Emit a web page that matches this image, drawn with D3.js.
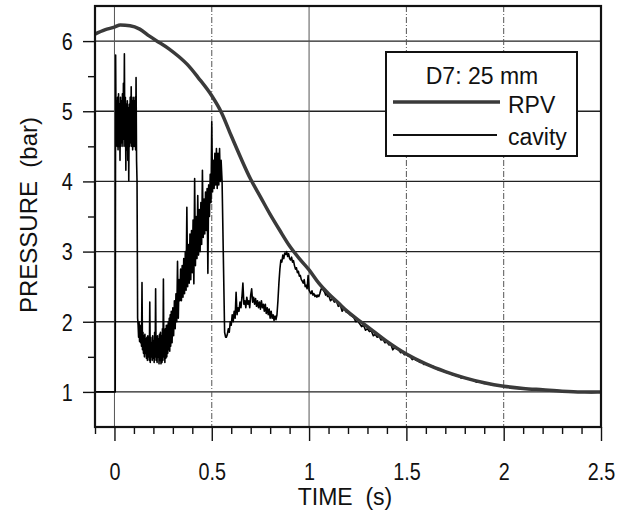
<!DOCTYPE html>
<html>
<head>
<meta charset="utf-8">
<script src="https://cdn.jsdelivr.net/npm/d3@7"></script>
<style>
  body { margin: 0; background: #fff; }
  text { font-family: "Liberation Sans", Arial, sans-serif; fill: #111; }
</style>
</head>
<body>
<svg id="chart" width="624" height="510"></svg>
<script>
// ---- data ----
const xMajor = [0, 0.5, 1, 1.5, 2, 2.5];
const xMinor = [-0.1, 0.1, 0.2, 0.3, 0.4, 0.6, 0.7, 0.8, 0.9, 1.1, 1.2, 1.3, 1.4, 1.6, 1.7, 1.8, 1.9, 2.1, 2.2, 2.3, 2.4];
const yMajor = [1, 2, 3, 4, 5, 6];
const yMinor = [1.5, 2.5, 3.5, 4.5, 5.5];

// RPV pressure (t, bar)
const rpv = [
  [-0.1, 6.10], [-0.05, 6.16], [0, 6.20], [0.03, 6.23], [0.08, 6.22], [0.13, 6.17],
  [0.18, 6.07], [0.23, 5.98], [0.28, 5.89], [0.33, 5.78], [0.38, 5.65], [0.43, 5.48],
  [0.5, 5.22], [0.55, 4.98], [0.6, 4.65], [0.65, 4.33], [0.7, 4.03], [0.75, 3.78],
  [0.8, 3.53], [0.85, 3.30], [0.9, 3.08], [0.95, 2.90], [1.0, 2.74], [1.05, 2.55],
  [1.1, 2.40], [1.15, 2.27], [1.2, 2.14], [1.25, 2.03], [1.3, 1.93], [1.4, 1.72],
  [1.5, 1.54], [1.6, 1.40], [1.7, 1.29], [1.8, 1.20], [1.9, 1.13], [2.0, 1.08],
  [2.1, 1.05], [2.2, 1.03], [2.3, 1.01], [2.4, 1.00], [2.5, 1.00]
];

// cavity pressure, sampled segments (start time, sample step, values)
const cavityBefore = [[-0.1, 1.0], [0.004, 1.0]];
const jetStart = 0.006, jetStep = 0.0025;
const jetValues = [
  5.80, 4.6, 5.15, 4.5, 5.2, 4.45, 5.25, 4.5, 5.1, 4.3, 5.2, 4.5, 5.15, 4.55, 5.25, 4.5,
  5.4, 4.6, 5.82, 4.5, 5.2, 4.16, 5.1, 4.45, 5.15, 4.3, 5.05, 4.01, 5.1, 4.5, 5.2, 4.55,
  5.35, 4.5, 5.15, 4.45, 5.2, 4.5, 5.15, 4.5, 5.2, 4.45, 5.48, 4.3
];
const jetDrop = [[0.116, 4.0], [0.119, 2.05]];
const lowStart = 0.1215, lowStep = 0.0025;
const lowValues = [
  1.95, 1.78, 2.0, 1.72, 1.95, 1.7, 1.9, 1.65, 2.56, 1.6, 1.85, 1.55, 1.8, 1.5, 1.82, 1.55,
  1.75, 1.48, 1.78, 1.45, 1.8, 1.5, 1.75, 1.45, 2.28, 1.42, 1.78, 1.5, 1.7, 1.45, 1.8, 1.48,
  1.72, 1.42, 1.85, 1.5, 2.47, 1.45, 1.78, 1.42, 1.8, 1.5, 1.75, 1.4, 1.82, 1.45, 1.85, 1.4,
  1.8, 1.42, 1.9, 1.45, 2.61, 1.5, 1.88, 1.42, 1.9, 1.48, 1.95, 1.5, 1.95, 1.55, 2.0, 1.6,
  2.05, 1.58, 2.1, 1.65
];
const riseStart = 0.292, riseStep = 0.004;
const riseValues = [
  2.15, 1.7, 2.2, 1.8, 2.3, 1.9, 2.4, 2.0, 2.86, 2.05, 2.6, 2.3, 2.75, 2.3, 2.8, 2.35,
  2.9, 2.4, 3.0, 2.45, 3.63, 2.5, 3.1, 2.55, 3.25, 2.6, 3.3, 2.7, 3.45, 2.54, 4.04, 2.8,
  3.5, 2.9, 3.8, 2.95, 3.6, 3.0, 3.7, 3.1, 4.16, 3.2, 3.75, 3.25, 3.85, 3.3, 3.9, 2.69,
  3.95, 3.5, 4.1, 3.7, 4.85, 3.85, 4.3, 3.9, 4.4, 3.95, 4.47, 3.9, 4.4, 3.95, 4.47, 4.0, 4.3
];
const riseDrop = [[0.553, 4.0], [0.566, 1.85], [0.571, 1.78]];
const plateauStart = 0.575, plateauStep = 0.005;
const plateauValues = [
  1.78, 1.82, 1.9, 1.85, 2.0, 1.95, 2.1, 2.0, 2.15, 2.05, 2.42, 2.1, 2.2, 2.15, 2.28, 2.2,
  2.35, 2.55, 2.25, 2.3, 2.2, 2.35, 2.25, 2.3, 2.2, 2.38, 2.47, 2.28, 2.35, 2.25, 2.33, 2.22,
  2.3, 2.2, 2.28, 2.18, 2.3, 2.2, 2.25, 2.15, 2.25, 2.12, 2.2, 2.1, 2.18, 2.05, 2.15, 2.05,
  2.1, 2.02, 2.08, 2.03, 2.1,
  2.3, 2.55, 2.75, 2.88, 2.85, 2.95, 2.9, 2.98, 2.96, 3.0, 2.93, 2.97, 2.9, 2.88, 2.92, 2.85,
  2.87, 2.8, 2.75, 2.77, 2.7, 2.72, 2.65, 2.66, 2.6, 2.58, 2.55, 2.6, 2.5, 2.52, 2.47, 2.66,
  2.45, 2.42, 2.4, 2.44, 2.38, 2.4, 2.36, 2.38, 2.35, 2.38, 2.36, 2.4, 2.45, 2.48, 2.46, 2.44,
  2.42, 2.38, 2.42, 2.36
];
const cavityTail = [
  [1.10, 2.38], [1.11, 2.30], [1.12, 2.33], [1.13, 2.28], [1.14, 2.30], [1.15, 2.22],
  [1.16, 2.24], [1.17, 2.15], [1.18, 2.19], [1.19, 2.14], [1.20, 2.13], [1.21, 2.10],
  [1.22, 2.08], [1.23, 2.06], [1.24, 2.00], [1.25, 2.01], [1.26, 1.97], [1.27, 1.93],
  [1.28, 1.95], [1.29, 1.88], [1.30, 1.90], [1.31, 1.86], [1.32, 1.87], [1.33, 1.80],
  [1.34, 1.82], [1.35, 1.78], [1.36, 1.79], [1.37, 1.74], [1.38, 1.75], [1.39, 1.70],
  [1.40, 1.71], [1.41, 1.67], [1.42, 1.68], [1.43, 1.60], [1.44, 1.63], [1.45, 1.61],
  [1.46, 1.60], [1.47, 1.56], [1.48, 1.57], [1.49, 1.53], [1.50, 1.54], [1.51, 1.51],
  [1.52, 1.50], [1.53, 1.46], [1.54, 1.48], [1.55, 1.45], [1.56, 1.44], [1.57, 1.42],
  [1.58, 1.42], [1.59, 1.39], [1.60, 1.40], [1.62, 1.37], [1.64, 1.36], [1.66, 1.32],
  [1.68, 1.31], [1.70, 1.28], [1.72, 1.27], [1.74, 1.24], [1.76, 1.24], [1.78, 1.20],
  [1.80, 1.20], [1.82, 1.18], [1.84, 1.17], [1.86, 1.14], [1.88, 1.14], [1.90, 1.12],
  [1.92, 1.12], [1.94, 1.10], [1.96, 1.10], [1.98, 1.08], [2.00, 1.08], [2.04, 1.06],
  [2.08, 1.05], [2.12, 1.04], [2.16, 1.03], [2.20, 1.03], [2.25, 1.02], [2.30, 1.01],
  [2.35, 1.00], [2.40, 1.00], [2.45, 0.99], [2.50, 1.00]
];

function sampled(start, step, values) {
  return values.map((v, i) => [start + i * step, v]);
}

const cavity = [].concat(
  cavityBefore,
  sampled(jetStart, jetStep, jetValues),
  jetDrop,
  sampled(lowStart, lowStep, lowValues),
  sampled(riseStart, riseStep, riseValues),
  riseDrop,
  sampled(plateauStart, plateauStep, plateauValues),
  cavityTail
);

// ---- layout ----
const svg = d3.select('#chart');
const plotLeft = 95, plotRight = 601, plotTop = 6, plotBottom = 427;

const x = d3.scaleLinear().domain([-0.1, 2.5]).range([plotLeft, plotRight]);
const y = d3.scaleLinear().domain([0.5, 6.5]).range([plotBottom, plotTop]);

// grid
svg.append('g')
  .selectAll('line')
  .data(yMajor)
  .enter()
  .append('line')
  .attr('x1', plotLeft).attr('x2', plotRight)
  .attr('y1', d => y(d)).attr('y2', d => y(d))
  .attr('stroke', '#222')
  .attr('stroke-width', 1.3);

svg.append('g')
  .selectAll('line')
  .data([0, 0.5, 1, 1.5, 2])
  .enter()
  .append('line')
  .attr('x1', d => x(d)).attr('x2', d => x(d))
  .attr('y1', plotTop).attr('y2', plotBottom)
  .attr('stroke', '#555')
  .attr('stroke-width', 1)
  .attr('stroke-dasharray', d => (d === 0 || d === 1) ? null : '6,2,1,2');

// x axis
const xAxis = svg.append('g').attr('transform', `translate(0,${plotBottom})`);
xAxis.append('g')
  .call(d3.axisBottom(x).tickValues(xMinor).tickSize(7).tickFormat(''))
  .call(g => g.select('.domain').remove());
xAxis.append('g')
  .call(d3.axisBottom(x).tickValues(xMajor).tickSize(14).tickFormat(d3.format('')))
  .call(g => g.select('.domain').remove());
xAxis.selectAll('line').attr('stroke', '#111').attr('stroke-width', 1.4);
xAxis.selectAll('text')
  .attr('y', 53).attr('dy', 0)
  .attr('transform', 'scale(0.86,1)')
  .style('font-size', '23px');

// y axis
const yAxis = svg.append('g').attr('transform', `translate(${plotLeft},0)`);
yAxis.append('g')
  .call(d3.axisLeft(y).tickValues(yMinor).tickSize(7).tickFormat(''))
  .call(g => g.select('.domain').remove());
yAxis.append('g')
  .call(d3.axisLeft(y).tickValues(yMajor).tickSize(12).tickFormat(d3.format('d')))
  .call(g => g.select('.domain').remove());
yAxis.selectAll('line').attr('stroke', '#111').attr('stroke-width', 1.4);
yAxis.selectAll('text')
  .attr('x', -26).attr('dy', '0.36em')
  .attr('transform', 'scale(0.86,1)')
  .style('font-size', '23px');

// curves
const line = d3.line().x(d => x(d[0])).y(d => y(d[1]));

svg.append('path')
  .datum(cavity)
  .attr('d', line)
  .attr('fill', 'none')
  .attr('stroke', '#000')
  .attr('stroke-width', 1.6)
  .attr('stroke-linejoin', 'round');

svg.append('path')
  .datum(rpv)
  .attr('d', d3.line().x(d => x(d[0])).y(d => y(d[1])).curve(d3.curveMonotoneX))
  .attr('fill', 'none')
  .attr('stroke', '#3a3a3a')
  .attr('stroke-width', 3.5);

// frame
svg.append('rect')
  .attr('x', plotLeft).attr('y', plotTop)
  .attr('width', plotRight - plotLeft).attr('height', plotBottom - plotTop)
  .attr('fill', 'none')
  .attr('stroke', '#111')
  .attr('stroke-width', 2.2);

// legend
const legend = svg.append('g');
legend.append('rect')
  .attr('x', 386).attr('y', 52).attr('width', 191).attr('height', 104)
  .attr('fill', '#fff').attr('stroke', '#111').attr('stroke-width', 2);
legend.append('text')
  .attr('x', 482).attr('y', 84)
  .attr('text-anchor', 'middle')
  .style('font-size', '23px')
  .text('D7: 25 mm');
legend.append('line')
  .attr('x1', 393).attr('x2', 500).attr('y1', 102).attr('y2', 102)
  .attr('stroke', '#3a3a3a').attr('stroke-width', 3.5);
legend.append('text')
  .attr('x', 508).attr('y', 113)
  .style('font-size', '23px')
  .text('RPV');
legend.append('line')
  .attr('x1', 393).attr('x2', 497).attr('y1', 135).attr('y2', 135)
  .attr('stroke', '#111').attr('stroke-width', 1.8);
legend.append('text')
  .attr('x', 508).attr('y', 145)
  .style('font-size', '23px')
  .text('cavity');

// axis titles
svg.append('text')
  .attr('x', 345).attr('y', 505)
  .attr('text-anchor', 'middle')
  .style('font-size', '23px')
  .style('white-space', 'pre')
  .text('TIME  (s)');

svg.append('text')
  .attr('transform', 'translate(37,215) rotate(-90)')
  .attr('text-anchor', 'middle')
  .style('font-size', '24px')
  .style('white-space', 'pre')
  .text('PRESSURE  (bar)');
</script>
</body>
</html>
